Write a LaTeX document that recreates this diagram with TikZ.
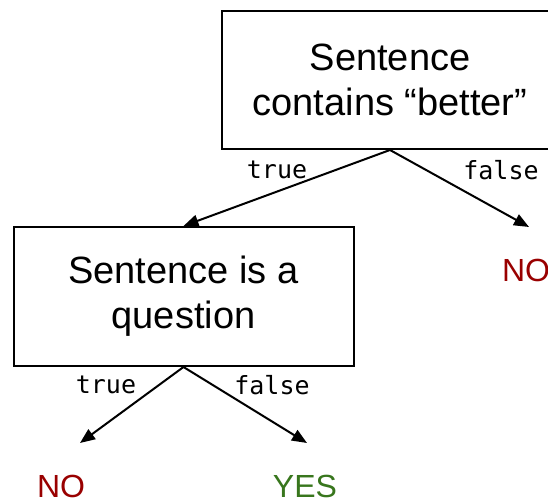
\documentclass[tikz,border=0pt]{standalone}
\usepackage{fontspec}
\setmainfont{Liberation Sans}
\setmonofont{DejaVu Sans Mono}
\usepackage{tikz}
\usetikzlibrary{arrows.meta,positioning}
\definecolor{NoRed}{RGB}{153,0,0}
\definecolor{YesGreen}{RGB}{56,118,29}

\tikzset{
  testbox/.style={draw,line width=2pt,inner sep=0pt,align=center,
    font=\fontsize{38}{45}\selectfont},
  branch/.style={line width=2pt,-{Triangle[length=15pt,width=12pt]}},
  edgelabel/.style={inner sep=0pt,font=\ttfamily\fontsize{25}{25}\selectfont},
  answer/.style={inner sep=0pt,font=\fontsize{32}{32}\selectfont}
}

\begin{document}
\begin{tikzpicture}[x=1pt,y=-1pt]
        \clip (0,0) rectangle (548,502);
        \useasboundingbox (0,0) rectangle (548,502);
        % decision nodes
        \node[testbox,minimum width=336pt,minimum height=138pt]
          (better) at (390,80) {Sentence\\contains “better”};
        \node[testbox,minimum width=340pt,minimum height=139pt]
          (question) at (183.5,296.5) {Sentence is a\\question};
        % leaves
        \node[answer,text=NoRed] (noright) at (526,270) {NO};
        \node[answer,text=NoRed] (noleft) at (61,486) {NO};
        \node[answer,text=YesGreen] (yes) at (305,486) {YES};
        \coordinate (noright tip) at (529,227);
        \coordinate (noleft tip) at (80,443);
        \coordinate (yes tip) at (307,443);
        % branches
        \draw[branch] (better.south) -- (question.north);
        \draw[branch] (better.south) -- (noright tip);
        \draw[branch] (question.south) -- (noleft tip);
        \draw[branch] (question.south) -- (yes tip);
        \node[edgelabel] (bettertrue) at (277,170) {true};
        \node[edgelabel] (betterfalse) at (501,170) {false};
        \node[edgelabel] (questiontrue) at (106,385) {true};
        \node[edgelabel] (questionfalse) at (272,385) {false};
      \end{tikzpicture}
\end{document}
